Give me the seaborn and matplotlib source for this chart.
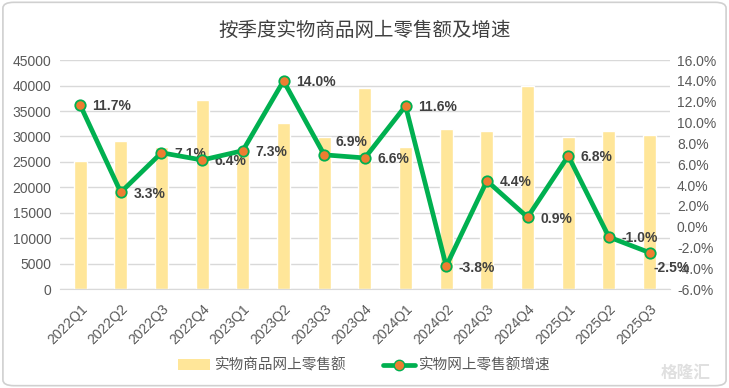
import matplotlib
matplotlib.use("Agg")
import matplotlib.pyplot as plt
import seaborn as sns
import pandas as pd
import numpy as np
from matplotlib.patches import FancyBboxPatch, Patch
from matplotlib.lines import Line2D
from matplotlib.ticker import FuncFormatter, MultipleLocator

quarters = ["2022Q1", "2022Q2", "2022Q3", "2022Q4", "2023Q1", "2023Q2", "2023Q3", "2023Q4",
            "2024Q1", "2024Q2", "2024Q3", "2024Q4", "2025Q1", "2025Q2", "2025Q3"]
sales = [25200, 29100, 27900, 37100, 27600, 32700, 29800, 39500,
         28000, 31500, 31100, 40000, 29900, 31100, 30200]
growth = [11.7, 3.3, 7.1, 6.4, 7.3, 14.0, 6.9, 6.6, 11.6, -3.8, 4.4, 0.9, 6.8, -1.0, -2.5]

title = "按季度实物商品网上零售额及增速"
bar_name = "实物商品网上零售额"
line_name = "实物网上零售额增速"

sns.set_style("white")
plt.rcParams['font.family'] = ['Noto Sans CJK SC', 'DejaVu Sans']

df = pd.DataFrame({"quarter": quarters, "sales": sales, "growth": growth})
df["pos"] = np.arange(len(df))

fig = plt.figure(figsize=(7.29, 3.88), dpi=100)
border = FancyBboxPatch((0.004, 0.006), 0.992, 0.988, boxstyle="round,pad=0,rounding_size=0.015",
                        transform=fig.transFigure, facecolor="none", edgecolor="#D0D0D0", lw=1.2,
                        zorder=-5)
fig.patches.append(border)

tick_font = ["Liberation Sans", "DejaVu Sans"]

ax = fig.add_axes([0.082, 0.255, 0.837, 0.59])
ax.set_facecolor("none")
sns.barplot(data=df, x="quarter", y="sales", color="#FFE699", width=0.32, ax=ax,
            saturation=1, zorder=2)
ax.set_ylim(0, 45000)
ax.yaxis.set_major_locator(MultipleLocator(5000))
ax.grid(axis="y", color="#D9D9D9", lw=1, zorder=0)
ax.set_axisbelow(True)
ax.set_xlim(-0.5, len(quarters) - 0.5)
ax.set_xlabel("")
ax.set_ylabel("")
for s in ["top", "right", "left"]:
    ax.spines[s].set_visible(False)
ax.spines["bottom"].set_color("#D9D9D9")
ax.tick_params(axis="y", colors="#595959", labelsize=10, length=0, pad=6)
ax.tick_params(axis="x", colors="#595959", labelsize=10, length=0, pad=9)
plt.setp(ax.get_xticklabels(), rotation=45, ha="right", rotation_mode="anchor", family=tick_font)
plt.setp(ax.get_yticklabels(), family=tick_font)

ax2 = ax.twinx()
sns.lineplot(data=df, x="pos", y="growth", ax=ax2, color="#00B050", lw=3.4,
             marker="o", markersize=7.5, markerfacecolor="#ED7D31",
             markeredgecolor="#00B050", markeredgewidth=1.3, zorder=5)
ax2.set_ylim(-6, 16)
ax2.yaxis.set_major_locator(MultipleLocator(2))
ax2.yaxis.set_major_formatter(FuncFormatter(lambda v, p: f"{v:.1f}%"))
ax2.set_xlim(-0.5, len(quarters) - 0.5)
ax2.set_xlabel("")
ax2.set_ylabel("")
for s in ["top", "right", "left", "bottom"]:
    ax2.spines[s].set_visible(False)
ax2.tick_params(axis="y", colors="#595959", labelsize=10, length=0, pad=5)
plt.setp(ax2.get_yticklabels(), family=tick_font)
ax2.grid(False)

label_offsets = {"2023Q3": (8, 9), "2025Q3": (3, -11)}
for q, xp, g in zip(df["quarter"], df["pos"], df["growth"]):
    off = label_offsets.get(q, (9, -1))
    ax2.annotate(f"{g:.1f}%", (xp, g), xytext=off, textcoords="offset points",
                 ha="left", va="center", fontsize=10, fontweight="bold", color="#404040",
                 family=tick_font)

fig.text(0.5, 0.922, title, ha="center", va="center", fontsize=14, color="#404040")

handles = [Patch(facecolor="#FFE699", edgecolor="none"),
           Line2D([0], [0], color="#00B050", lw=3.4, marker="o", markersize=7.5,
                  markerfacecolor="#ED7D31", markeredgecolor="#00B050")]
fig.legend(handles, [bar_name, line_name], loc="center", bbox_to_anchor=(0.5, 0.058),
           ncol=2, frameon=False, fontsize=10.5, labelcolor="#595959",
           handlelength=2.2, columnspacing=2.5, handletextpad=0.3)

fig.text(0.975, 0.04, "格隆汇", ha="right", va="center", fontsize=12, color="#E0E0E0",
         fontweight="bold")

fig.savefig("out.png", dpi=100)
